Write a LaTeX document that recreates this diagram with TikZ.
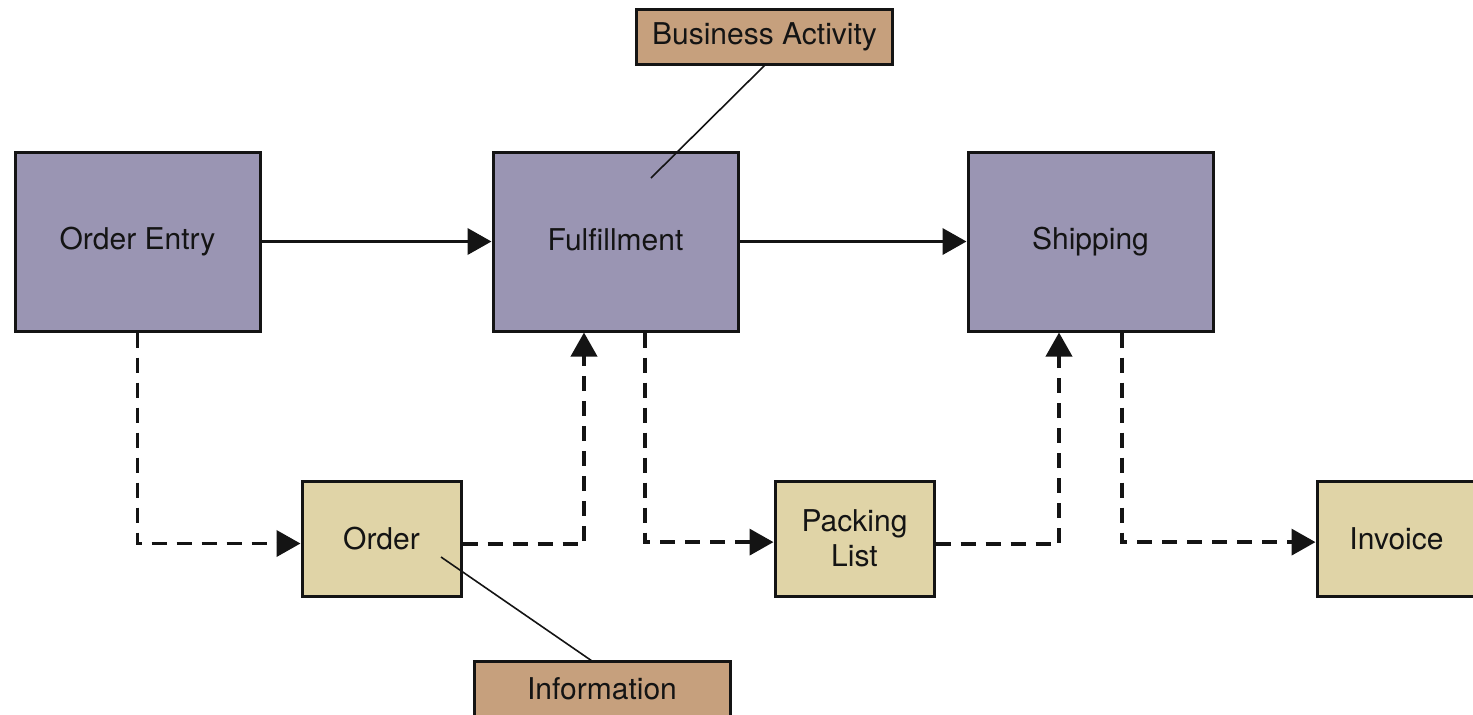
\documentclass[tikz,border=0pt]{standalone}
\usepackage{fontspec}
\setmainfont{TeX Gyre Heros}
\usetikzlibrary{arrows.meta,calc}
\definecolor{actfill}{HTML}{9A95B3}
\definecolor{infofill}{HTML}{E0D4A7}
\definecolor{tagfill}{HTML}{C6A07D}
\definecolor{ink}{HTML}{141414}
\tikzset{
  base/.style={draw=ink, line width=1.5pt, text=ink, inner sep=0pt, align=center,
    font=\fontsize{15pt}{17.5pt}\selectfont},
  actbox/.style={base, fill=actfill, minimum width=122.5pt, minimum height=89.5pt},
  infobox/.style={base, fill=infofill, minimum width=79.5pt, minimum height=57.5pt},
  tagbox/.style={base, fill=tagfill, minimum width=128pt, minimum height=27.5pt},
  flow/.style={draw=ink, line width=1.9pt, -{Triangle[length=12pt,width=13pt]}},
  dflow/.style={flow, dash pattern=on 7.5pt off 5pt},
  callout/.style={draw=ink, line width=0.8pt}
}
\begin{document}
\begin{tikzpicture}[x=0.5pt,y=-0.5pt]
\useasboundingbox (0,0) rectangle (1473,714);
\node[actbox] (oe) at (137.5,241.5) {Order Entry};
\node[actbox] (fu) at (615.5,241.5) {\raisebox{1.5pt}{Fulfillment}};
\node[actbox] (sh) at (1090.5,241.5) {Shipping};
\node[infobox] (order) at (381.5,538.5) {Order};
\node[infobox] (pl) at (854.5,538.5) {Packing\\List};
\node[infobox] (inv) at (1396.5,538.5) {Invoice};
\node[tagbox] (ba) at (764.5,36.5) {Business Activity};
\node[tagbox] (info) at (602,688.5) {Information};

\coordinate (baend) at (651,178);
\coordinate (infoend) at (441,557);
\coordinate (infotop) at (592,661);

\draw[flow] (oe.east) -- (fu.west);
\draw[flow] (fu.east) -- (sh.west);

\draw[dflow] (oe.south) |- ([yshift=-2.5pt]order.west);
\draw[dflow] ([yshift=-2.8pt]order.east) -| ([xshift=-15.75pt]fu.south);
\draw[dflow] ([xshift=14.75pt]fu.south) |- ([yshift=-1.8pt]pl.west);
\draw[dflow] ([yshift=-2.8pt]pl.east) -| ([xshift=-15.75pt]sh.south);
\draw[dflow] ([xshift=15.75pt]sh.south) |- ([yshift=-1.8pt]inv.west);

\draw[callout] (ba.south) -- (baend);
\draw[callout] (infoend) -- (infotop);
\end{tikzpicture}
\end{document}
